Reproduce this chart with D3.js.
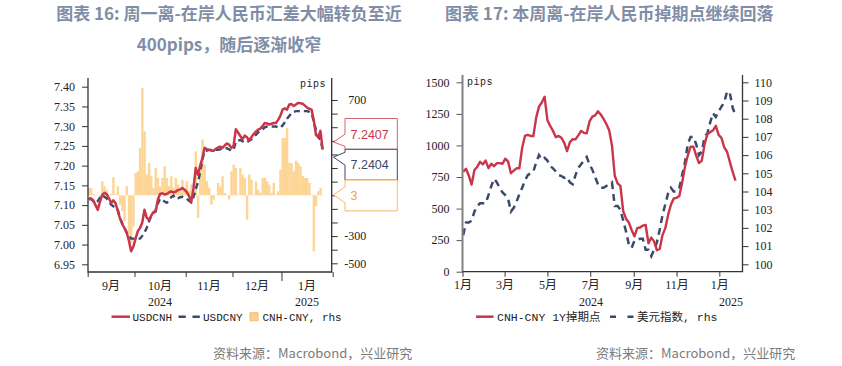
<!DOCTYPE html>
<html>
<head>
<meta charset="utf-8">
<script src="https://cdn.jsdelivr.net/npm/d3@7"></script>
<style>
body { margin: 0; background: #fff; }
svg { display: block; }
</style>
</head>
<body>
<svg id="chart" width="842" height="366"></svg>
<script>
// ---- left chart: daily, business days from 2024-09-02 ----
const usdcnh = [7.114,7.117,7.112,7.100,7.088,7.108,7.126,7.131,7.128,7.118,
  7.105,7.112,7.105,7.085,7.066,7.052,7.042,7.030,7.010,6.983,
  6.995,7.015,7.034,7.042,7.056,7.088,7.068,7.062,7.073,7.082,
  7.083,7.114,7.128,7.130,7.127,7.128,7.132,7.135,7.132,7.134,
  7.138,7.140,7.143,7.139,7.133,7.123,7.108,7.143,7.194,7.177,
  7.200,7.219,7.245,7.242,7.240,7.238,7.238,7.242,7.246,7.248,
  7.245,7.251,7.256,7.253,7.245,7.250,7.292,7.284,7.275,7.267,
  7.276,7.272,7.263,7.272,7.280,7.286,7.291,7.294,7.300,7.308,
  7.307,7.304,7.306,7.308,7.308,7.316,7.326,7.342,7.345,7.342,
  7.355,7.356,7.351,7.355,7.359,7.358,7.357,7.352,7.347,7.344,
  7.342,7.315,7.278,7.272,7.288,7.2407];
const usdcny = [7.118,7.115,7.110,7.106,7.110,7.119,7.126,7.121,7.117,7.109,
  7.101,7.097,7.092,7.088,7.068,7.054,7.042,7.031,7.023,7.015,
  7.015,7.015,7.015,7.015,7.022,7.031,7.042,7.058,7.072,7.080,
  7.087,7.104,7.116,7.113,7.109,7.106,7.111,7.120,7.124,7.116,
  7.117,7.120,7.121,7.119,7.116,7.111,7.107,7.120,7.140,7.158,
  7.183,7.215,7.237,7.238,7.240,7.240,7.240,7.240,7.240,7.241,
  7.243,7.244,7.244,7.241,7.238,7.240,7.260,7.264,7.265,7.262,
  7.258,7.259,7.263,7.267,7.272,7.278,7.284,7.288,7.292,7.297,
  7.299,7.299,7.299,7.299,7.299,7.297,7.296,7.302,7.310,7.319,
  7.326,7.333,7.336,7.338,7.338,7.338,7.338,7.338,7.338,7.336,
  7.333,7.312,7.290,7.272,7.266,7.2404];
const cnhCnyPips = [55,52,8,-6,5,-4,103,66,41,5,
  10,132,5,66,-69,-117,-191,66,-290,-350,
  -230,164,176,348,789,470,152,237,140,55,
  200,127,66,127,213,127,66,140,55,127,
  78,41,115,41,103,30,80,30,323,-167,
  190,409,225,103,55,-69,-30,3,90,66,
  140,17,3,-30,176,225,200,5,200,152,
  127,-179,152,115,5,103,41,17,127,127,
  103,78,17,90,5,30,188,421,421,495,
  237,237,176,254,237,213,140,127,127,90,
  5,-412,-81,30,55,3];
const leftTicks = [6.95,7.00,7.05,7.10,7.15,7.20,7.25,7.30,7.35,7.40];
const pipsTicks = d3.range(-500, 701, 100);
const leftMonthLabels = ["9月","10月","11月","12月","1月"];
const leftYearLabels = [{text:"2024", month:1}, {text:"2025", month:4}];

// ---- right chart: sampled every 4 days from 2024-01-02 ----
const swapPts = [792,815,760,690,805,830,870,850,880,820,
  855,835,860,860,855,895,872,780,800,819,
  819,980,1075,1083,1075,1075,1220,1307,1340,1385,
  1200,1155,1115,1065,1075,1060,1020,955,1025,1050,
  1048,1080,1115,1100,1096,1190,1228,1238,1270,1245,
  1210,1170,1120,1000,760,700,680,480,420,390,
  330,280,345,350,365,370,225,270,240,170,
  180,290,345,450,530,580,585,600,705,830,
  920,990,990,920,860,880,1010,1090,1105,1120,
  1155,1083,1060,985,950,870,790,721];
const dxy = [101.6,102.3,102.3,102.4,102.9,103.2,103.35,103.35,103.35,103.8,
  104.3,104.7,104.5,104.2,103.95,103.8,103.6,102.9,103.1,103.44,
  103.85,104.2,104.6,104.9,105.0,105.1,105.6,106.0,105.75,105.85,
  105.7,105.4,105.27,105.1,104.9,104.85,104.75,104.8,104.5,104.4,
  104.9,105.3,105.5,105.7,105.9,105.5,105.2,104.8,104.4,104.2,
  104.2,104.3,104.4,104.5,103.2,103.2,103.0,102.4,101.8,101.1,
  100.9,101.3,101.33,101.4,101.4,100.8,100.8,100.45,100.8,101.2,
  101.9,102.7,103.3,103.9,104.2,104.0,104.0,104.2,104.9,105.6,
  106.6,107.0,107.0,106.6,106.0,106.2,107.0,107.2,107.8,108.3,
  108.1,108.4,108.66,108.9,109.5,109.4,108.6,108.2];
const swapTicks = d3.range(0, 1501, 250);
const dxyTicks = d3.range(100, 111, 1);
const rightMonthTicks = [new Date(2024,0,1), new Date(2024,2,1), new Date(2024,4,1), new Date(2024,6,1),
  new Date(2024,8,1), new Date(2024,10,1), new Date(2025,0,1)];

const RED = "#c9364a", NAVY = "#3b4a6a", BAR = "#fcd08c", ORANGE = "#f4a636";
const serif = "'Liberation Serif','Times New Roman','Noto Sans CJK SC',serif";
const mono = "'Liberation Mono','DejaVu Sans Mono','Noto Sans CJK SC',monospace";
const cjk = "'Noto Sans CJK SC','Noto Sans',sans-serif";

const svg = d3.select("#chart");

// titles
const titleColor = "#7f8ea6";
svg.append("text").attr("x", 229).attr("y", 20).attr("text-anchor", "middle")
    .style("font", "bold 17px " + cjk).attr("fill", titleColor)
    .text("图表 16: 周一离-在岸人民币汇差大幅转负至近");
svg.append("text").attr("x", 229).attr("y", 51).attr("text-anchor", "middle")
    .style("font", "bold 17px " + cjk).attr("fill", titleColor)
    .text("400pips，随后逐渐收窄");
svg.append("text").attr("x", 445).attr("y", 20)
    .style("font", "bold 17px " + cjk).attr("fill", titleColor)
    .text("图表 17: 本周离-在岸人民币掉期点继续回落");

// sources
[213, 596].forEach(x => {
    svg.append("text").attr("x", x).attr("y", 358)
        .style("font", "13px " + cjk).attr("fill", "#7b7b7b")
        .text("资料来源：Macrobond，兴业研究");
});

function styleAxis(g, color) {
    g.select(".domain").remove();
    g.selectAll(".tick line").attr("stroke", color);
    g.selectAll(".tick text").style("font", "12px " + serif).attr("fill", "#222");
}

/* ================= left chart ================= */
const busDays = d3.timeDay.range(new Date(2024,8,1), new Date(2025,1,1))
    .filter(d => d.getDay() !== 0 && d.getDay() !== 6);
const xL = d3.scaleLinear().domain([0, busDays.length]).range([87.7, 332.7]);
const yL = d3.scaleLinear().domain([6.95, 7.40]).range([264.3, 86.7]);
const yR = d3.scaleLinear().domain([-500, 700]).range([263.3, 100]);
const L = {left: 88, right: 331.7, top: 78, bottom: 272};

const gL = svg.append("g");

// bars
const bw = xL(1) - xL(0);
gL.append("g").selectAll("rect").data(cnhCnyPips).join("rect")
    .attr("x", (d, i) => xL(i))
    .attr("width", bw + 0.2)
    .attr("y", d => Math.min(yR(d), yR(0)))
    .attr("height", d => Math.abs(yR(d) - yR(0)))
    .attr("fill", BAR).attr("opacity", 0.9);

const lineL = d3.line().x((d, i) => xL(i + 0.5)).y(d => yL(d));
gL.append("path").datum(usdcny).attr("d", lineL)
    .attr("fill", "none").attr("stroke", NAVY).attr("stroke-width", 2.4)
    .attr("stroke-dasharray", "6,4");
gL.append("path").datum(usdcnh).attr("d", lineL)
    .attr("fill", "none").attr("stroke", RED).attr("stroke-width", 2.5)
    .attr("stroke-linejoin", "round");

// axes
const axL = gL.append("g").attr("transform", `translate(${L.left},0)`)
    .call(d3.axisLeft(yL).tickValues(leftTicks).tickSize(6).tickPadding(7).tickFormat(d3.format(".2f")));
styleAxis(axL, "#333");
const axR = gL.append("g").attr("transform", `translate(${L.right},0)`)
    .call(d3.axisRight(yR).tickValues(pipsTicks).tickSize(6)
        .tickFormat(d => (d + 500) % 200 === 0 ? d : ""));
styleAxis(axR, "#333");
axR.selectAll(".tick text").attr("text-anchor", "end").attr("x", 34.5);

// month boundaries
const monthIdx = [];
busDays.forEach((d, i) => {
    if (i === 0 || d.getMonth() !== busDays[i - 1].getMonth()) monthIdx.push(i);
});
monthIdx.push(busDays.length);
const axB = gL.append("g").attr("transform", `translate(0,${L.bottom})`)
    .call(d3.axisBottom(xL).tickValues(monthIdx).tickSize(5).tickFormat(""));
styleAxis(axB, "#333");
axB.selectAll(".tick line").attr("y2", i => busDays[i] && busDays[i].getMonth() === 0 ? 9 : 5);

gL.append("path")
    .attr("d", `M${L.left},${L.top}V${L.bottom}H${L.right}V${L.top}`)
    .attr("fill", "none").attr("stroke", "#333").attr("stroke-width", 1.3);

leftMonthLabels.forEach((t, k) => {
    gL.append("text").attr("x", (xL(monthIdx[k]) + xL(monthIdx[k + 1])) / 2).attr("y", 290)
        .attr("text-anchor", "middle").style("font", "12px " + serif).attr("fill", "#222").text(t);
});
leftYearLabels.forEach(o => {
    gL.append("text").attr("x", (xL(monthIdx[o.month]) + xL(monthIdx[o.month + 1])) / 2).attr("y", 306)
        .attr("text-anchor", "middle").style("font", "12px " + serif).attr("fill", "#222").text(o.text);
});
gL.append("text").attr("x", 326).attr("y", 87).attr("text-anchor", "end")
    .style("font", "10px " + mono).attr("fill", "#222").attr("letter-spacing", 0.5).text("pips");

// callouts for the last values
const last = arr => arr[arr.length - 1];
const callouts = [
    {y: yL(last(usdcnh)), text: d3.format(".4f")(last(usdcnh)), color: RED, edge: "#d46573"},
    {y: yL(last(usdcny)), text: d3.format(".4f")(last(usdcny)), color: NAVY, edge: NAVY},
    {y: yR(last(cnhCnyPips)), text: String(last(cnhCnyPips)), color: ORANGE, edge: "#f6b967"}
].sort((a, b) => a.y - b.y);
// spread pointer tips
for (let k = 1; k < callouts.length; k++) {
    if (callouts[k].y - callouts[k - 1].y < 15) {
        const m = (callouts[k].y + callouts[k - 1].y) / 2;
        callouts[k - 1].y = m - 7.5; callouts[k].y = m + 7.5;
    }
}
callouts.forEach(c => c.tip = c.y);
// stack boxes without overlap
const boxH = 30.8;
let groups = callouts.map(c => [c]);
let merged = true;
const place = g => { const m = d3.mean(g, c => c.tip); g.forEach((c, j) => c.top = m - g.length * boxH / 2 + j * boxH); };
while (merged) {
    merged = false;
    groups.forEach(place);
    for (let k = 1; k < groups.length; k++) {
        const a = groups[k - 1], b = groups[k];
        if (last(a).top + boxH > b[0].top) { groups.splice(k - 1, 2, a.concat(b)); merged = true; break; }
    }
}
groups.forEach(place);

// tick labels sitting under a callout box are covered in the original
axR.selectAll(".tick").each(function (d) {
    const yy = yR(d);
    if (callouts.some(c => yy > c.top && yy < c.top + boxH)) d3.select(this).select("text").text("");
});

const bx0 = 345, bx1 = 397.3, tipX = 333.5;
callouts.forEach(c => {
    const top = c.top, bot = c.top + boxH;
    const y1 = Math.max(top + 3, c.tip - 8), y2 = Math.min(bot - 3, c.tip + 8);
    gL.append("path")
        .attr("d", `M${bx0},${top}H${bx1}V${bot}H${bx0}V${y2}L${tipX},${c.tip}L${bx0},${y1}Z`)
        .attr("fill", "#fff").attr("stroke", c.edge).attr("stroke-width", 1);
    gL.append("text").attr("x", bx0 + 5.5).attr("y", top + boxH / 2 + 4.6)
        .style("font", "12.5px 'Liberation Sans','Open Sans',sans-serif").attr("fill", c.color).text(c.text);
});

// legend left
const legY = 316.7;
const legL = svg.append("g");
legL.append("line").attr("x1", 111.5).attr("x2", 130).attr("y1", legY).attr("y2", legY)
    .attr("stroke", RED).attr("stroke-width", 2.5);
legL.append("text").attr("x", 132.5).attr("y", legY + 4).style("font", "11px " + mono).attr("fill", "#222").text("USDCNH");
legL.append("line").attr("x1", 178.5).attr("x2", 200).attr("y1", legY).attr("y2", legY)
    .attr("stroke", NAVY).attr("stroke-width", 2.5).attr("stroke-dasharray", "7.3,6.7");
legL.append("text").attr("x", 203).attr("y", legY + 4).style("font", "11px " + mono).attr("fill", "#222").text("USDCNY");
legL.append("rect").attr("x", 250).attr("y", legY - 4).attr("width", 8).attr("height", 8)
    .attr("fill", BAR).attr("stroke", "#f7bd72").attr("stroke-width", 1);
legL.append("text").attr("x", 262.5).attr("y", legY + 4).style("font", "11px " + mono).attr("fill", "#222").text("CNH-CNY, rhs");

/* ================= right chart ================= */
const swapDates = d3.timeDay.range(new Date(2024,0,2), new Date(2025,0,25), 4);
const xT = d3.scaleTime().domain([new Date(2024,0,1), new Date(2025,1,3)]).range([462.5, 742.5]);
const yP = d3.scaleLinear().domain([0, 1500]).range([271.7, 82.3]);
const yD = d3.scaleLinear().domain([100, 110]).range([264.3, 82.3]);
const R = {left: 462.5, right: 742.5, top: 75, bottom: 271.7};

const gR = svg.append("g");
gR.append("path").datum(dxy)
    .attr("d", d3.line().x((d, i) => xT(swapDates[i])).y(d => yD(d)))
    .attr("fill", "none").attr("stroke", NAVY).attr("stroke-width", 2.5).attr("stroke-dasharray", "7,5");
gR.append("path").datum(swapPts)
    .attr("d", d3.line().x((d, i) => xT(swapDates[i])).y(d => yP(d)))
    .attr("fill", "none").attr("stroke", RED).attr("stroke-width", 2.4).attr("stroke-linejoin", "round");

const axP = gR.append("g").attr("transform", `translate(${R.left},0)`)
    .call(d3.axisLeft(yP).tickValues(swapTicks).tickSize(6).tickPadding(7).tickFormat(d3.format("d")));
styleAxis(axP, "#555");
const axD = gR.append("g").attr("transform", `translate(${R.right},0)`)
    .call(d3.axisRight(yD).tickValues(dxyTicks).tickSize(6).tickPadding(6).tickFormat(d3.format("d")));
styleAxis(axD, "#333");
const axT = gR.append("g").attr("transform", `translate(0,${R.bottom})`)
    .call(d3.axisBottom(xT).tickValues(rightMonthTicks).tickSize(5).tickPadding(4)
        .tickFormat(d => (d.getMonth() + 1) + "月"));
styleAxis(axT, "#333");

gR.append("line").attr("x1", R.left).attr("x2", R.left).attr("y1", R.top).attr("y2", R.bottom)
    .attr("stroke", "#808080").attr("stroke-width", 2);
gR.append("path").attr("d", `M${R.left},${R.bottom}H${R.right}V${R.top}`)
    .attr("fill", "none").attr("stroke", "#333").attr("stroke-width", 1.3);

// year labels centred on the visible part of each year
[2024, 2025].forEach(yr => {
    const a = Math.max(xT(new Date(yr,0,1)), R.left), b = Math.min(xT(new Date(yr + 1,0,1)), R.right);
    gR.append("text").attr("x", (a + b) / 2).attr("y", 306).attr("text-anchor", "middle")
        .style("font", "12px " + serif).attr("fill", "#222").text(yr);
});
gR.append("text").attr("x", 467).attr("y", 84.5)
    .style("font", "10px " + mono).attr("fill", "#222").attr("letter-spacing", 0.5).text("pips");

// legend right
const legR = svg.append("g");
legR.append("line").attr("x1", 476).attr("x2", 493.5).attr("y1", legY).attr("y2", legY)
    .attr("stroke", RED).attr("stroke-width", 2.5);
legR.append("text").attr("x", 497).attr("y", legY + 4).style("font", "11.5px " + mono).attr("fill", "#222").text("CNH-CNY 1Y掉期点");
legR.append("line").attr("x1", 610).attr("x2", 633.5).attr("y1", legY).attr("y2", legY)
    .attr("stroke", NAVY).attr("stroke-width", 2.5).attr("stroke-dasharray", "6,11.5");
legR.append("text").attr("x", 637).attr("y", legY + 4).style("font", "11.5px " + mono).attr("fill", "#222").text("美元指数, rhs");
</script>
</body>
</html>
